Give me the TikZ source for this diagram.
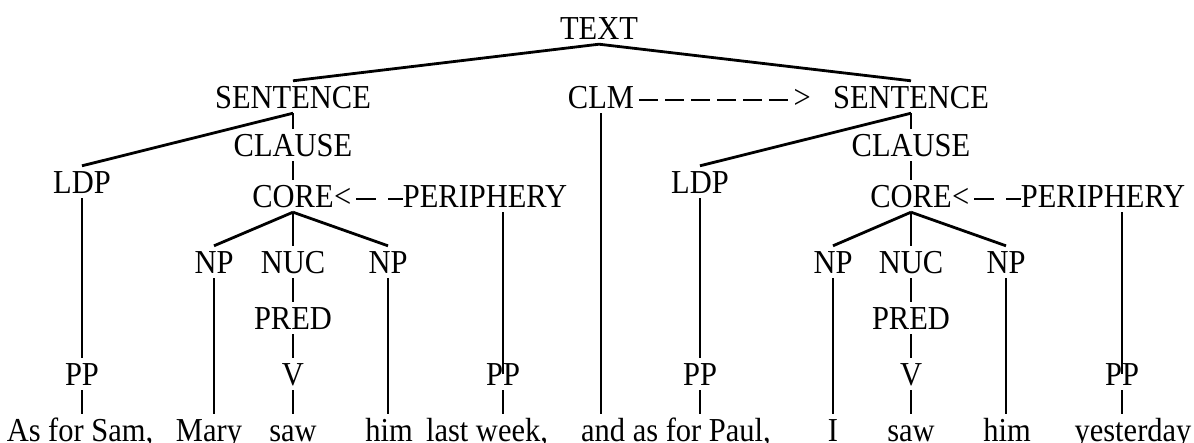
\documentclass[tikz,border=0pt]{standalone}
\usepackage{fontspec}
\setmainfont{Liberation Serif}[FakeStretch=0.91]
\usetikzlibrary{positioning}

\begin{document}
\begin{tikzpicture}[
			x=1pt, y=-1pt,
			on grid,
			cat/.style={
				inner xsep=0pt,
				inner ysep=5pt,
				text height=22pt,
				text depth=0pt,
				font=\fontsize{33.5}{40}\selectfont
			},
			every edge/.style={
				draw,
				line width=2.8pt
			},
			clmlink/.style={line width=1.8pt, dash pattern=on 19pt off 7pt},
			perilink/.style={line width=1.8pt, dash pattern=on 20pt off 12pt}
			]
			\useasboundingbox (0,0) rectangle (1194,442);

			% Top levels
			\node[cat] (text) at (599,28) {TEXT};
			\node[cat] (sent1) at (293,97) {SENTENCE};
			\node[cat] (clm) at (601,97) {CLM};
			\node[cat] (sent2) at (911,97) {SENTENCE};
			\node[cat, anchor=base east] (gt) at ([xshift=-22pt]sent2.base west) {>};

			% First sentence
			\node[cat] (clause1) [below=48pt of sent1] {CLAUSE};
			\node[cat] (core1) [below=51pt of clause1] {CORE};
			\node[cat, anchor=base west] (lt1) at (core1.base east) {<};
			\node[cat] (peri1) at (485,196) {PERIPHERY};
			\node[cat] (ldp1) at (82,182) {LDP};
			\node[cat] (np1) at (214,262) {NP};
			\node[cat] (nuc1) [below=66pt of core1] {NUC};
			\node[cat] (np2) at (388,262) {NP};
			\node[cat] (pred1) [below=56pt of nuc1] {PRED};
			\node[cat] (v1) [below=56pt of pred1] {V};
			\node[cat] (pp1) at (82,374) {PP};
			\node[cat] (pp2) at (503,374) {PP};

			% Second sentence
			\node[cat] (clause2) [below=48pt of sent2] {CLAUSE};
			\node[cat] (core2) [below=51pt of clause2] {CORE};
			\node[cat, anchor=base west] (lt2) at (core2.base east) {<};
			\node[cat] (peri2) at (1103,196) {PERIPHERY};
			\node[cat] (ldp2) at (700,182) {LDP};
			\node[cat] (np3) at (833,262) {NP};
			\node[cat] (nuc2) [below=66pt of core2] {NUC};
			\node[cat] (np4) at (1006,262) {NP};
			\node[cat] (pred2) [below=56pt of nuc2] {PRED};
			\node[cat] (v2) [below=56pt of pred2] {V};
			\node[cat] (pp3) at (700,374) {PP};
			\node[cat] (pp4) at (1122,374) {PP};

			% Words
			\node[cat] (w1) at (80,430) {As for Sam,};
			\node[cat] (w2) at (209,430) {Mary};
			\node[cat] (w3) at (293,430) {saw};
			\node[cat] (w4) at (389,430) {him};
			\node[cat] (w5) at (487,430) {last week,};
			\node[cat] (w6) at (676,430) {and as for Paul,};
			\node[cat] (w7) at (833,430) {I};
			\node[cat] (w8) at (911,430) {saw};
			\node[cat] (w9) at (1007,430) {him};
			\node[cat] (w10) at (1133,430) {yesterday};

			% Branches
			\path
			(text.south) edge (sent1.north)
			edge (sent2.north)
			(sent1.south) edge (ldp1.north)
			edge (clause1.north)
			(clause1.south) edge (core1.north)
			(core1.south) edge (np1.north)
			edge (nuc1.north)
			edge (np2.north)
			(nuc1.south) edge (pred1.north)
			(pred1.south) edge (v1.north)
			(v1.south) edge (v1.south |- w3.north)
			(np1.south) edge (np1.south |- w2.north)
			(np2.south) edge (np2.south |- w4.north)
			(ldp1.south) edge (ldp1.south |- pp1.north)
			(pp1.south) edge (pp1.south |- w1.north)
			(peri1.south -| pp2) edge (pp2.center)
			(pp2.south) edge (pp2.south |- w5.north)
			(clm.south) edge (clm.south |- w6.north)
			(sent2.south) edge (ldp2.north)
			edge (clause2.north)
			(clause2.south) edge (core2.north)
			(core2.south) edge (np3.north)
			edge (nuc2.north)
			edge (np4.north)
			(nuc2.south) edge (pred2.north)
			(pred2.south) edge (v2.north)
			(v2.south) edge (v2.south |- w8.north)
			(np3.south) edge (np3.south |- w7.north)
			(np4.south) edge (np4.south |- w9.north)
			(ldp2.south) edge (ldp2.south |- pp3.north)
			(pp3.south) edge (pp3.south |- w6.north)
			(peri2.south -| pp4) edge (pp4.center)
			(pp4.south) edge (pp4.south |- w10.north);

			% Dashed links
			\draw[clmlink] ([xshift=5pt,yshift=8pt]clm.base east) -- ([xshift=-1pt,yshift=8pt]gt.base west);
			\draw[perilink] ([xshift=5pt,yshift=8pt]lt1.base east) -- ([yshift=8pt]peri1.base west);
			\draw[perilink] ([xshift=5pt,yshift=8pt]lt2.base east) -- ([yshift=8pt]peri2.base west);
		\end{tikzpicture}
\end{document}
